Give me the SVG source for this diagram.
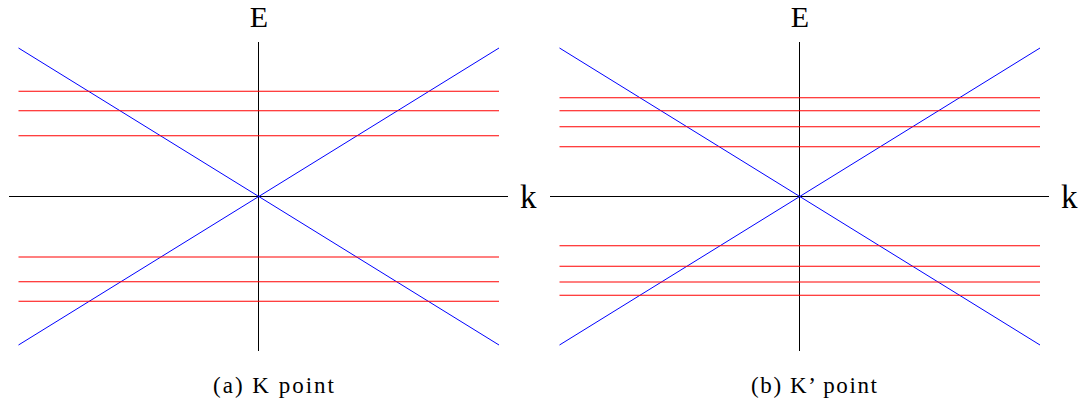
<svg xmlns="http://www.w3.org/2000/svg" width="1088" height="410" viewBox="0 0 1088 410">
<style>
.axis{stroke:#000;stroke-width:1;fill:none}
.cone{stroke:#0000ff;stroke-width:1;fill:none}
.band{stroke:#ff0000;stroke-width:1.1;fill:none}
.lbl{font-family:"Liberation Serif","DejaVu Serif",serif;font-size:33px;fill:#000}
.elbl{font-family:"Liberation Serif","DejaVu Serif",serif;font-size:30px;fill:#000}
.cap{font-family:"Liberation Serif","DejaVu Serif",serif;font-size:23px;fill:#000}
</style>
<rect width="1088" height="410" fill="#fff"/>
<g id="panel-a">
  <g id="connectors-a">
    <line class="axis" x1="258.5" y1="42" x2="258.5" y2="351"/>
    <line class="axis" x1="9" y1="196.5" x2="508" y2="196.5"/>
    <line class="cone" x1="18.5" y1="48" x2="499" y2="345"/>
    <line class="cone" x1="18.5" y1="345" x2="499" y2="48"/>
    <line class="band" x1="18.5" y1="91.3" x2="499" y2="91.3"/>
    <line class="band" x1="18.5" y1="110.8" x2="499" y2="110.8"/>
    <line class="band" x1="18.5" y1="135.8" x2="499" y2="135.8"/>
    <line class="band" x1="18.5" y1="257" x2="499" y2="257"/>
    <line class="band" x1="18.5" y1="281.8" x2="499" y2="281.8"/>
    <line class="band" x1="18.5" y1="301.2" x2="499" y2="301.2"/>
  </g>
  <g id="label-E-a"><text class="elbl" x="258.8" y="26.5" text-anchor="middle">E</text></g>
  <g id="label-k-a"><text class="lbl" x="520" y="208">k</text></g>
  <g id="caption-a"><text class="cap" x="213" y="393" textLength="121" lengthAdjust="spacing">(a) K point</text></g>
</g>
<g id="panel-b">
  <g id="connectors-b">
    <line class="axis" x1="799.5" y1="42" x2="799.5" y2="351"/>
    <line class="axis" x1="550" y1="196.5" x2="1049" y2="196.5"/>
    <line class="cone" x1="559.5" y1="48" x2="1040" y2="345"/>
    <line class="cone" x1="559.5" y1="345" x2="1040" y2="48"/>
    <line class="band" x1="559.5" y1="97.8" x2="1040" y2="97.8"/>
    <line class="band" x1="559.5" y1="110.8" x2="1040" y2="110.8"/>
    <line class="band" x1="559.5" y1="126.8" x2="1040" y2="126.8"/>
    <line class="band" x1="559.5" y1="146.8" x2="1040" y2="146.8"/>
    <line class="band" x1="559.5" y1="245.8" x2="1040" y2="245.8"/>
    <line class="band" x1="559.5" y1="266.3" x2="1040" y2="266.3"/>
    <line class="band" x1="559.5" y1="282" x2="1040" y2="282"/>
    <line class="band" x1="559.5" y1="295.3" x2="1040" y2="295.3"/>
  </g>
  <g id="label-E-b"><text class="elbl" x="799.8" y="26.5" text-anchor="middle">E</text></g>
  <g id="label-k-b"><text class="lbl" x="1061" y="208">k</text></g>
  <g id="caption-b"><text class="cap" x="751" y="393" textLength="126" lengthAdjust="spacing">(b) K’ point</text></g>
</g>
</svg>
